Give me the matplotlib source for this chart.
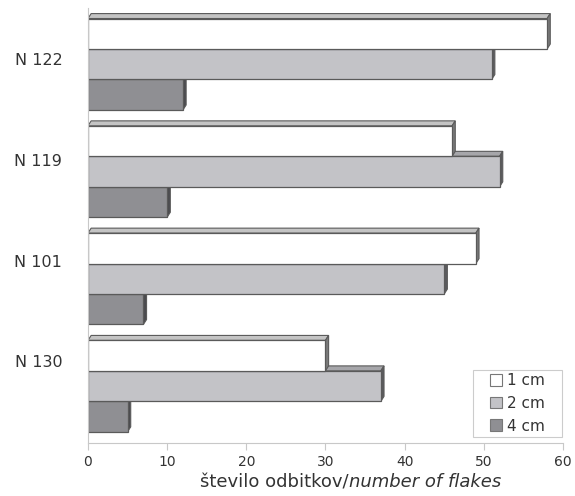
import numpy as np
import matplotlib
matplotlib.use('Agg')
import matplotlib.pyplot as plt
from matplotlib.patches import Polygon, Rectangle, Patch

plt.rcParams['font.family'] = 'DejaVu Sans'

# skupine od spodaj navzgor
groups = ['N 130', 'N 101', 'N 119', 'N 122']
sizes = ['1 cm', '2 cm', '4 cm']
vals_1cm = [30, 49, 46, 58]
vals_2cm = [37, 45, 52, 51]
vals_4cm = [5, 7, 10, 12]

front = ['#ffffff', '#c3c3c7', '#8f8f93']
top = ['#c4c4c4', '#a6a6aa', '#6e6e72']
side = ['#7a7a7a', '#5a5a5e', '#4a4a4e']
edge = '#5a5a5a'

h = 0.284            # visina stolpca
dx, dy = 0.4, 0.046  # globina 3D efekta
label_shift = np.array([0.23, 0.17, 0.11, 0.05])

fig = plt.figure(figsize=(5.75, 4.96), dpi=100)
ax = fig.add_axes([0.153, 0.107, 0.826, 0.876])

series = [vals_1cm, vals_2cm, vals_4cm]
offsets = [h, 0, -h]

# risanje od spodaj navzgor, da zgornji stolpci prekrijejo ploskve spodnjih
for gi in range(len(groups)):
    for si in [2, 1, 0]:
        v = series[si][gi]
        y0 = gi + offsets[si] - h / 2
        y1 = y0 + h
        ax.add_patch(Polygon([(0, y1), (dx, y1 + dy), (v + dx, y1 + dy), (v, y1)],
                             closed=True, fc=top[si], ec=edge, lw=0.8, zorder=2))
        ax.add_patch(Polygon([(v, y0), (v + dx, y0 + dy), (v + dx, y1 + dy), (v, y1)],
                             closed=True, fc=side[si], ec=edge, lw=0.8, zorder=2))
        ax.add_patch(Rectangle((0, y0), v, h, fc=front[si], ec=edge, lw=0.9, zorder=2))

ax.set_xlim(0, 60)
ax.set_ylim(-0.53, 3.52)
ax.set_xticks(np.arange(0, 61, 10))
ax.set_yticks(np.arange(len(groups)) + label_shift)
ax.set_yticklabels(groups)

for s in ['top', 'right']:
    ax.spines[s].set_visible(False)
ax.spines['bottom'].set_color('#c8c8c8')
ax.spines['left'].set_color('#c8c8c8')
ax.tick_params(axis='x', colors='#c8c8c8', labelcolor='#333333', labelsize=10, length=5, pad=4)
ax.tick_params(axis='y', length=0, labelcolor='#333333', labelsize=11.5, pad=18.5)

t = fig.text(0.348, 0.018, 'število odbitkov/', fontsize=13, color='#333333')
ax.annotate('number of flakes', xy=(1, 0), xycoords=t, fontsize=13,
            style='italic', color='#333333', va='bottom', ha='left')

# okvir legende
ax.add_patch(Rectangle((0.8105, 0.0138), 0.187, 0.154, transform=ax.transAxes,
                       fc='white', ec='#cccccc', lw=0.8, zorder=3, clip_on=False))
handles = [Patch(fc=front[i], ec='#777777', lw=0.8) for i in range(3)]
leg = ax.legend(handles, sizes, loc='center', bbox_to_anchor=(0.904, 0.091),
                frameon=False, fontsize=11, handlelength=0.8,
                handleheight=0.8, handletextpad=0.3, labelspacing=0.5,
                borderpad=0, borderaxespad=0, labelcolor='#333333')
leg.set_zorder(4)

fig.savefig('out.png', dpi=100)
